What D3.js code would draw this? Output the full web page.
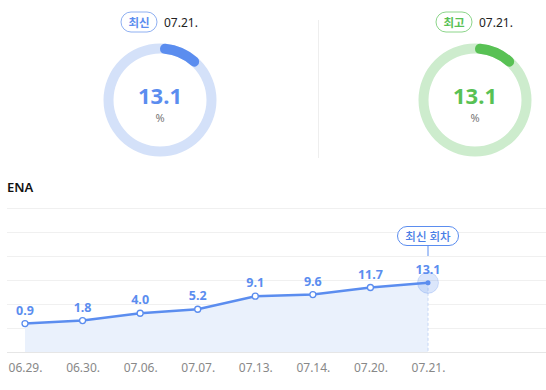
<!DOCTYPE html>
<html>
<head>
    <meta charset="utf-8" />
    <title></title>
    <style>
        body { margin: 0; background: #fff; }
        svg text { font-family: "Noto Sans", "Noto Sans CJK KR", sans-serif; }
    </style>
</head>
<body>
    <div id="chart"></div>
    <script src="https://cdn.jsdelivr.net/npm/d3@7"></script>
    <script>
        // data
        var dates = ["06.29.", "06.30.", "07.06.", "07.07.", "07.13.", "07.14.", "07.20.", "07.21."];
        var values = [0.9, 1.8, 4.0, 5.2, 9.1, 9.6, 11.7, 13.1];
        var seriesName = "ENA";
        var gauges = [
            { tag: "최신", date: "07.21.", value: 13.1, color: "#5b8def", light: "#d4e1f9", border: "#8fb0f2" },
            { tag: "최고", date: "07.21.", value: 13.1, color: "#58c154", light: "#cdeccd", border: "#8cd58a" }
        ];
        var latestLabel = "최신 회차";

        var width = 546, height = 390;
        var svg = d3.select("#chart").append("svg")
            .attr("width", width).attr("height", height);

        // ---- gauges ----
        var gaugeX = [160, 475];
        var arc = d3.arc().innerRadius(46.5).outerRadius(56.5).cornerRadius(5);
        gauges.forEach(function (g, i) {
            var gg = svg.append("g").attr("transform", "translate(" + gaugeX[i] + ",100)");
            gg.append("path")
                .attr("d", arc({ startAngle: 0, endAngle: 2 * Math.PI }))
                .attr("fill", g.light);
            gg.append("path")
                .attr("d", arc({ startAngle: 0, endAngle: 2 * Math.PI * g.value / 100 }))
                .attr("fill", g.color);
            gg.append("text")
                .attr("y", 3.5)
                .attr("text-anchor", "middle")
                .attr("font-size", 22)
                .attr("font-weight", "bold")
                .attr("fill", g.color)
                .text(g.value.toFixed(1));
            gg.append("text")
                .attr("y", 22)
                .attr("text-anchor", "middle")
                .attr("font-size", 11)
                .attr("fill", "#777")
                .text("%");
            // tag pill
            var head = svg.append("g").attr("transform", "translate(" + (gaugeX[i] - 39) + ",12)");
            head.append("rect")
                .attr("width", 36).attr("height", 20).attr("rx", 10)
                .attr("fill", "#fff").attr("stroke", g.border);
            head.append("text")
                .attr("x", 18).attr("y", 14.5)
                .attr("text-anchor", "middle")
                .attr("font-size", 11.5)
                .attr("font-weight", "bold")
                .attr("fill", g.color)
                .text(g.tag);
            head.append("text")
                .attr("x", 43).attr("y", 15)
                .attr("font-size", 12)
                .attr("fill", "#222")
                .text(g.date);
        });
        svg.append("line")
            .attr("x1", 318.5).attr("x2", 318.5).attr("y1", 20).attr("y2", 158)
            .attr("stroke", "#eee");

        // ---- line chart ----
        svg.append("text")
            .attr("x", 7).attr("y", 192)
            .attr("font-size", 13).attr("font-weight", 600)
            .attr("fill", "#111")
            .text(seriesName);

        var x = d3.scalePoint().domain(dates).range([25, 428]);
        var y = d3.scaleLinear().domain([-7.6, 35.5]).range([352, 208]);

        var grid = d3.range(7).map(function (i) { return 208 + i * 24; });
        svg.append("g").selectAll("line")
            .data(grid)
            .join("line")
            .attr("x1", 7).attr("x2", width)
            .attr("y1", d => d + 0.5).attr("y2", d => d + 0.5)
            .attr("stroke", function (d, i) { return i === 6 ? "#e6e6e6" : "#f0f0f0"; });

        var pts = dates.map(function (d, i) { return { date: d, value: values[i] }; });

        svg.append("path")
            .datum(pts)
            .attr("fill", "#eaf1fc")
            .attr("d", d3.area().x(d => x(d.date)).y0(352).y1(d => y(d.value)));

        var last = pts[pts.length - 1];
        svg.append("line")
            .attr("x1", x(last.date)).attr("x2", x(last.date))
            .attr("y1", y(last.value)).attr("y2", 352)
            .attr("stroke", "#c5d6f6").attr("stroke-dasharray", "3,2");

        svg.append("path")
            .datum(pts)
            .attr("fill", "none")
            .attr("stroke", "#5b8def")
            .attr("stroke-width", 2.5)
            .attr("d", d3.line().x(d => x(d.date)).y(d => y(d.value)));

        svg.append("g").selectAll("circle")
            .data(pts.slice(0, -1))
            .join("circle")
            .attr("cx", d => x(d.date)).attr("cy", d => y(d.value))
            .attr("r", 3)
            .attr("fill", "#fff").attr("stroke", "#5b8def").attr("stroke-width", 1.3);

        svg.append("circle")
            .attr("cx", x(last.date)).attr("cy", y(last.value)).attr("r", 10.5)
            .attr("fill", "#5b8def").attr("fill-opacity", 0.22)
            .attr("stroke", "#5b8def").attr("stroke-opacity", 0.25);
        svg.append("circle")
            .attr("cx", x(last.date)).attr("cy", y(last.value)).attr("r", 2.5)
            .attr("fill", "#5b8def");

        svg.append("g").selectAll("text")
            .data(pts)
            .join("text")
            .attr("x", d => x(d.date)).attr("y", d => y(d.value) - 9)
            .attr("text-anchor", "middle")
            .attr("font-size", 12.5).attr("font-weight", "bold")
            .attr("fill", "#5b8def")
            .text(d => d.value.toFixed(1));

        // latest marker
        var lx = x(last.date);
        svg.append("line")
            .attr("x1", lx).attr("x2", lx).attr("y1", 246).attr("y2", 256)
            .attr("stroke", "#5b8def");
        svg.append("rect")
            .attr("x", lx - 30.5).attr("y", 226.5).attr("width", 61).attr("height", 19).attr("rx", 9.5)
            .attr("fill", "#fff").attr("stroke", "#5b8def");
        svg.append("text")
            .attr("x", lx).attr("y", 240.5)
            .attr("text-anchor", "middle")
            .attr("font-size", 11.5).attr("font-weight", 500).attr("fill", "#4a7ee6")
            .text(latestLabel);

        // x axis labels
        var xAxis = d3.axisBottom(x).tickSize(0).tickPadding(11);
        var ax = svg.append("g").attr("transform", "translate(0,352)").call(xAxis);
        ax.select(".domain").remove();
        ax.selectAll("text")
            .attr("font-size", 12)
            .attr("fill", "#888")
            .style("font-family", "\"Noto Sans\", sans-serif");
    </script>
</body>
</html>
